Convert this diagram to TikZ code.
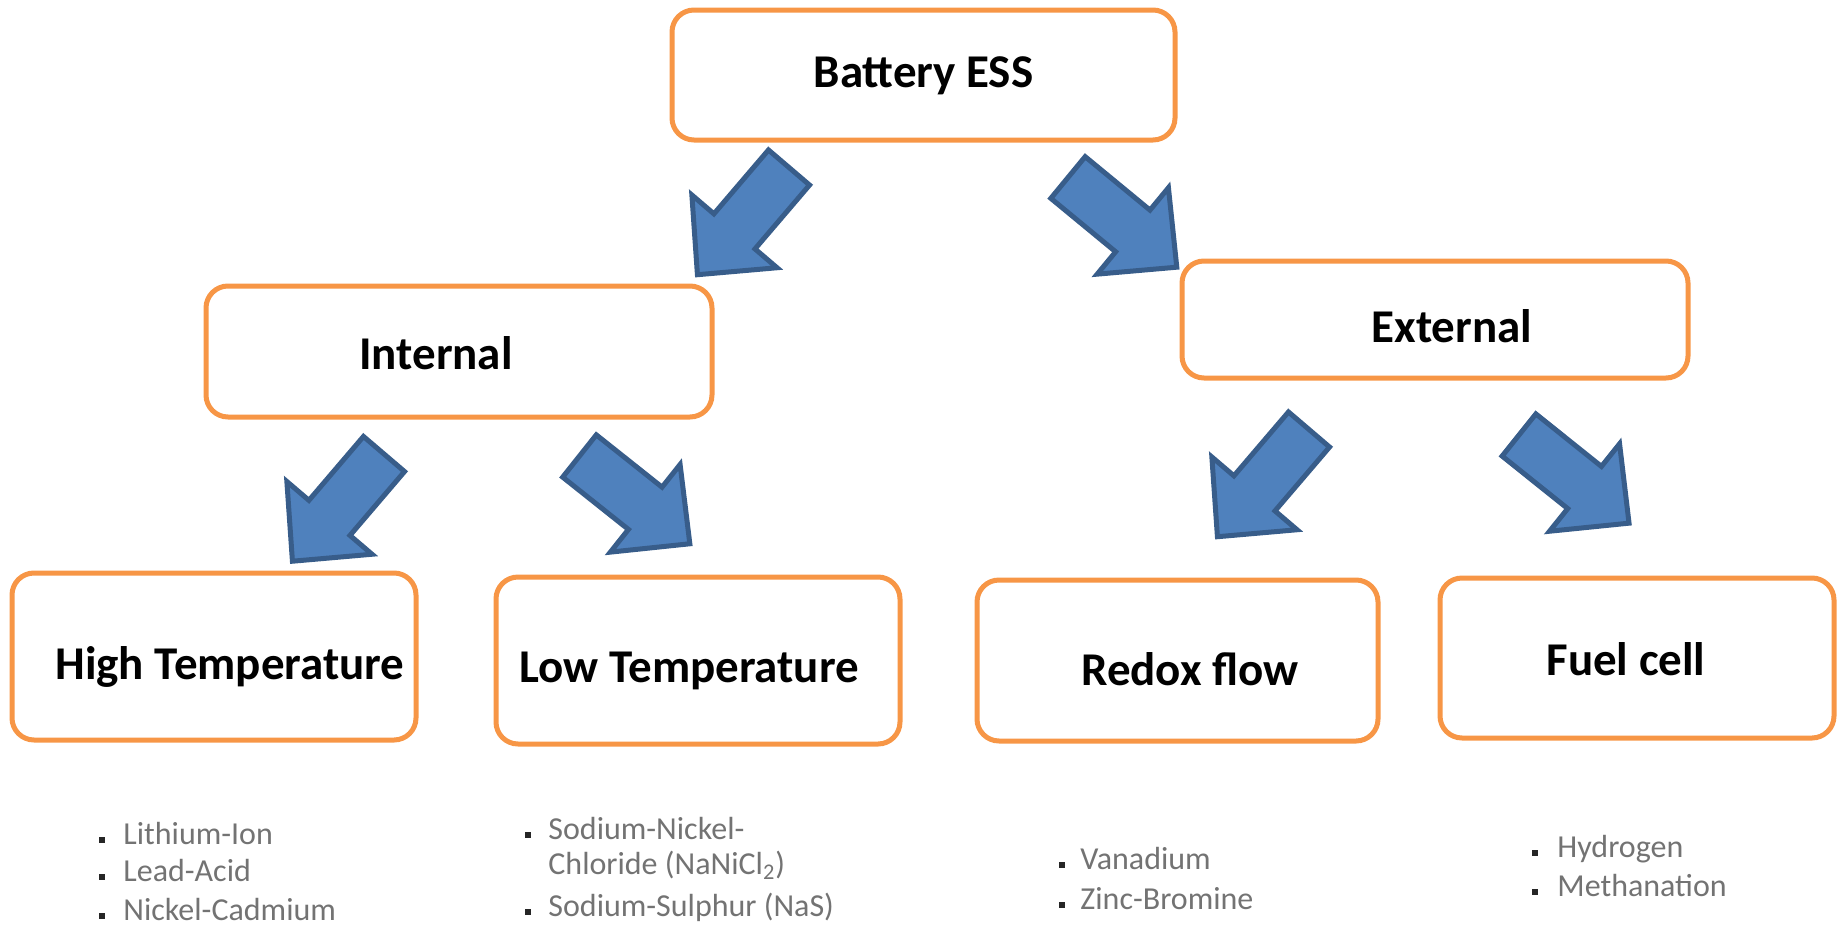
\documentclass[tikz,border=0pt]{standalone}
\usepackage{fontspec}
\setmainfont{Carlito}
\definecolor{boxorange}{HTML}{F79646}
\definecolor{arrowfill}{HTML}{4F81BD}
\definecolor{arrowline}{HTML}{385D8A}
\newcommand{\blockarr}[2]{%
  \begin{scope}[shift={#1}, rotate=#2]
    \draw[barrowstyle] (0pt,13.5pt) -- (42pt,13.5pt) -- (42pt,28pt) -- (70.5pt,0pt)
      -- (42pt,-28pt) -- (42pt,-13.5pt) -- (0pt,-13.5pt) -- cycle;
  \end{scope}}
\begin{document}
\begin{tikzpicture}[x=0.5pt,y=-0.5pt,
  ebox/.style={draw=boxorange, line width=2.5pt, rounded corners=11pt, fill=white,
    rectangle, inner sep=0pt, outer sep=0pt},
  btext/.style={font=\fontsize{23.5}{28}\selectfont\bfseries, anchor=base, inner sep=0pt},
  barrowstyle/.style={fill=arrowfill, draw=arrowline, line width=2.5pt, line join=miter},
  bul/.style={fill=black!85, inner sep=0pt, minimum size=3.2pt, rectangle},
  ltext/.style={font=\fontsize{16}{19}\selectfont, text=black!55, anchor=mid west, inner sep=0pt}]
\useasboundingbox (0,0) rectangle (1837,927);
% boxes
\node[ebox, minimum width=251.5pt, minimum height=65pt] (ess) at (923.5,75) {};
\node[ebox, minimum width=253pt, minimum height=65.5pt] (int) at (459,351.5) {};
\node[ebox, minimum width=253pt, minimum height=58.5pt] (ext) at (1435,319.5) {};
\node[ebox, minimum width=202pt, minimum height=83.5pt] (high) at (214,656.5) {};
\node[ebox, minimum width=202pt, minimum height=83.5pt] (low) at (698,660.5) {};
\node[ebox, minimum width=200.5pt, minimum height=80.5pt] (redox) at (1177.5,660.5) {};
\node[ebox, minimum width=197pt, minimum height=80pt] (fuel) at (1637,658) {};
% box texts
\node[btext] (esst) at (923.5,87) {Battery ESS};
\node[btext] (intt) at (436,369) {Internal};
\node[btext] (extt) at (1452,342) {External};
\node[btext] (hight) at (230,679) {High Temperature};
\node[btext] (lowt) at (689,682) {Low Temperature};
\node[btext] (redoxt) at (1190,685) {Redox flow};
\node[btext] (fuelt) at (1626,675) {Fuel cell};
% block arrows
\blockarr{(789,167.5)}{229.5}
\blockarr{(1068,177.5)}{-39.5}
\blockarr{(384,454)}{229.5}
\blockarr{(579.5,456)}{-38.5}
\blockarr{(1309,429.5)}{229.5}
\blockarr{(1519,435)}{-38.7}
% lists
\node[bul] (b11) at (102,840) {};
\node[ltext] (l11) at (123,840) {Lithium-Ion};
\node[bul] (b12) at (102,877) {};
\node[ltext] (l12) at (123,877) {Lead-Acid};
\node[bul] (b13) at (102,916) {};
\node[ltext] (l13) at (123,916) {Nickel-Cadmium};
\node[bul] (b21) at (528,835) {};
\node[ltext] (l21) at (548,835) {Sodium-Nickel-};
\node[ltext] (l22) at (548,870) {Chloride (NaNiCl\textsubscript{2})};
\node[bul] (b23) at (528,912) {};
\node[ltext] (l23) at (548,912) {Sodium-Sulphur (NaS)};
\node[bul] (b31) at (1062,865) {};
\node[ltext] (l31) at (1080,865) {Vanadium};
\node[bul] (b32) at (1062,905) {};
\node[ltext] (l32) at (1080,905) {Zinc-Bromine};
\node[bul] (b41) at (1535,853) {};
\node[ltext] (l41) at (1557,853) {Hydrogen};
\node[bul] (b42) at (1535,892) {};
\node[ltext] (l42) at (1557,892) {Methanation};
\end{tikzpicture}
\end{document}
